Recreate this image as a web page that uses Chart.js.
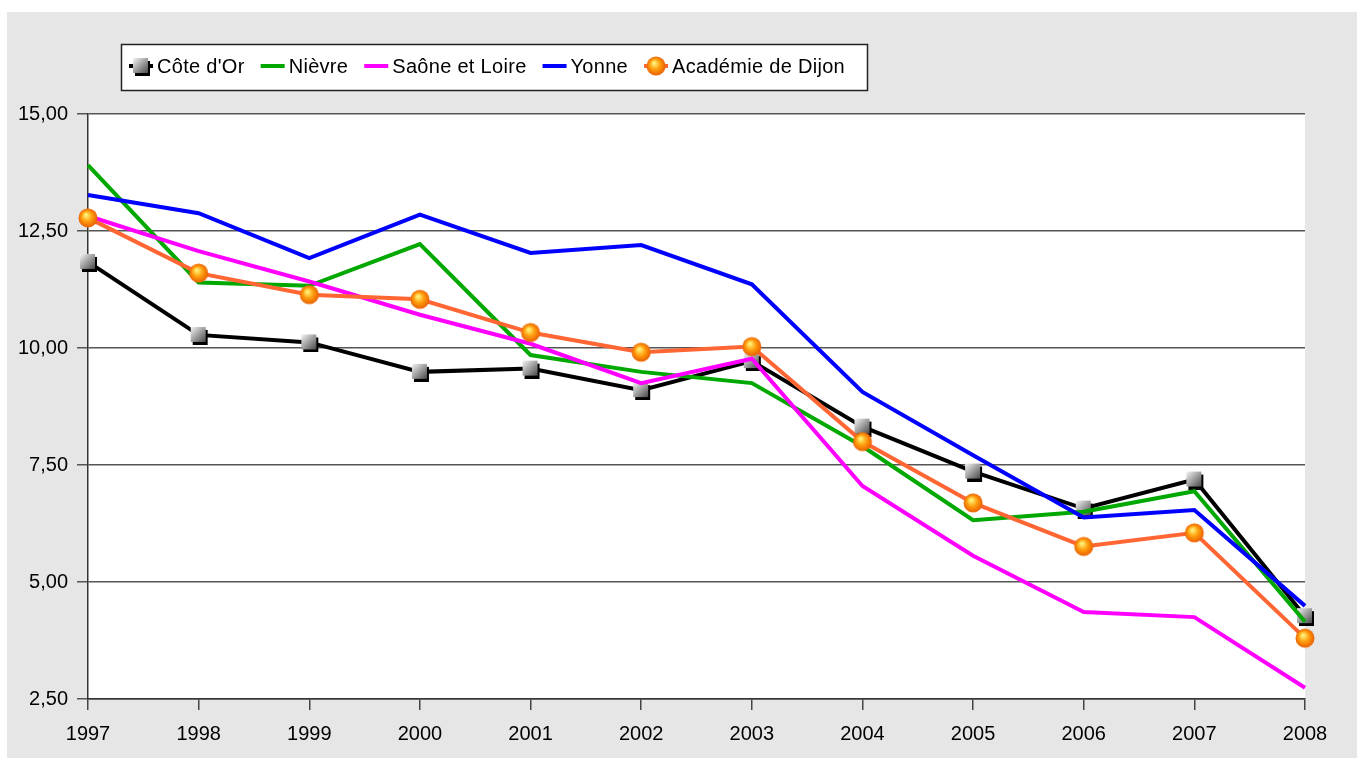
<!DOCTYPE html>
<html>
<head>
<meta charset="utf-8">
<script src="https://cdn.jsdelivr.net/npm/chart.js@4.4.1/dist/chart.umd.min.js"></script>
<style>
  body { margin: 0; background: #ffffff; }
  #wrap { width: 1357px; height: 760px; }
</style>
</head>
<body>
<div id="wrap"><canvas id="myChart" width="1357" height="760"></canvas></div>
<script>
const years = ["1997", "1998", "1999", "2000", "2001", "2002", "2003", "2004", "2005", "2006", "2007", "2008"];
const coteDOr = [11.84, 10.28, 10.12, 9.49, 9.56, 9.10, 9.72, 8.32, 7.36, 6.57, 7.19, 4.27];
const nievre = [13.91, 11.40, 11.33, 12.22, 9.85, 9.49, 9.25, 7.90, 6.32, 6.50, 6.94, 4.15];
const saoneEtLoire = [12.82, 12.07, 11.42, 10.71, 10.09, 9.25, 9.77, 7.05, 5.56, 4.36, 4.25, 2.74];
const yonne = [13.27, 12.88, 11.92, 12.85, 12.03, 12.20, 11.36, 9.06, 7.71, 6.38, 6.54, 4.49];
const academie = [12.78, 11.60, 11.14, 11.04, 10.33, 9.91, 10.03, 8.00, 6.69, 5.76, 6.05, 3.80];

const seriesNames = ["Côte d'Or", "Nièvre", "Saône et Loire", "Yonne", "Académie de Dijon"];
const seriesColors = ["#000000", "#00a800", "#ff00ff", "#0000ff", "#ff6633"];

// marker images
function squareMarker() {
  const c = document.createElement("canvas");
  c.width = 20; c.height = 20;
  const g = c.getContext("2d");
  g.fillStyle = "#000";
  g.fillRect(4, 5, 15, 15);
  const grad = g.createLinearGradient(2, 2, 17, 17);
  grad.addColorStop(0, "#f6f6f6");
  grad.addColorStop(0.5, "#a0a0a0");
  grad.addColorStop(1, "#4a4a4a");
  g.fillStyle = grad;
  g.fillRect(2, 2, 15, 15);
  return c;
}
function sphereMarker() {
  const c = document.createElement("canvas");
  c.width = 22; c.height = 22;
  const g = c.getContext("2d");
  const grad = g.createRadialGradient(9, 8, 1, 11, 11, 10);
  grad.addColorStop(0, "#ffef75");
  grad.addColorStop(0.45, "#ffa010");
  grad.addColorStop(1, "#e85a00");
  g.fillStyle = grad;
  g.beginPath();
  g.arc(11, 11, 9.5, 0, Math.PI * 2);
  g.fill();
  return c;
}
const sq = squareMarker();
const sph = sphereMarker();
const markers = [sq, null, null, null, sph];

const values = [coteDOr, nievre, saoneEtLoire, yonne, academie];

const datasets = values.map((v, i) => ({
  label: seriesNames[i],
  data: v,
  borderColor: seriesColors[i],
  backgroundColor: seriesColors[i],
  borderWidth: 4,
  tension: 0,
  pointStyle: markers[i] || "circle",
  pointRadius: markers[i] ? 9 : 0,
  pointHoverRadius: markers[i] ? 9 : 0,
  order: 5 - i,
  clip: false,
}));

const backgroundPlugin = {
  id: "bg",
  beforeDraw(chart) {
    const ctx = chart.ctx;
    const a = chart.chartArea;
    ctx.save();
    ctx.fillStyle = "#ffffff";
    ctx.fillRect(0, 0, chart.width, chart.height);
    ctx.fillStyle = "#e6e6e6";
    ctx.fillRect(7, 12, chart.width - 7, 746);
    ctx.fillStyle = "#ffffff";
    ctx.fillRect(a.left, a.top, a.right - a.left, a.bottom - a.top);
    ctx.restore();
  },
};

const legendPlugin = {
  id: "boxLegend",
  afterDraw(chart) {
    const ctx = chart.ctx;
    ctx.save();
    ctx.fillStyle = "#ffffff";
    ctx.fillRect(121, 44, 746, 46);
    ctx.strokeStyle = "#222";
    ctx.lineWidth = 1.5;
    ctx.strokeRect(121.5, 44.5, 746, 46);
    ctx.font = "20px 'Liberation Sans', Arial, sans-serif";
    ctx.letterSpacing = "0.3px";
    ctx.textBaseline = "middle";
    let x = 129;
    const y = 66;
    seriesNames.forEach((name, i) => {
      ctx.strokeStyle = seriesColors[i];
      ctx.lineWidth = 4;
      ctx.beginPath();
      ctx.moveTo(x, y);
      ctx.lineTo(x + 24, y);
      ctx.stroke();
      if (markers[i]) {
        const m = markers[i];
        ctx.drawImage(m, x + 12 - m.width / 2, y - m.height / 2);
      }
      ctx.fillStyle = "#000";
      ctx.fillText(name, x + 28, y + 1);
      x += 28 + ctx.measureText(name).width + 16;
    });
    ctx.restore();
  },
};

const config = {
  type: "line",
  data: { labels: years, datasets: datasets },
  plugins: [backgroundPlugin, legendPlugin],
  options: {
    responsive: false,
    animation: false,
    layout: { padding: { top: 114, right: 52, bottom: 0, left: 0 } },
    plugins: {
      legend: { display: false },
      tooltip: { enabled: false },
    },
    scales: {
      x: {
        offset: false,
        afterFit(scale) { scale.height = 61; },
        grid: {
          drawOnChartArea: false,
          drawTicks: true,
          tickLength: 11,
          color: "#444",
          lineWidth: 1.5,
        },
        border: { color: "#333", width: 1.5 },
        ticks: {
          color: "#000",
          font: { family: "'Liberation Sans', Arial, sans-serif", size: 20 },
          padding: 12,
          maxRotation: 0,
          autoSkip: false,
        },
      },
      y: {
        min: 2.5,
        max: 15,
        afterFit(scale) { scale.width = 88; },
        grid: {
          color: "#555",
          lineWidth: 1.5,
          tickLength: 11,
        },
        border: { color: "#333", width: 1.5 },
        ticks: {
          stepSize: 2.5,
          color: "#000",
          font: { family: "'Liberation Sans', Arial, sans-serif", size: 20 },
          padding: 9,
          callback: (v) => Number(v).toFixed(2).replace(".", ","),
        },
      },
    },
  },
};

const myChart = new Chart(document.getElementById("myChart"), config);
</script>
</body>
</html>
